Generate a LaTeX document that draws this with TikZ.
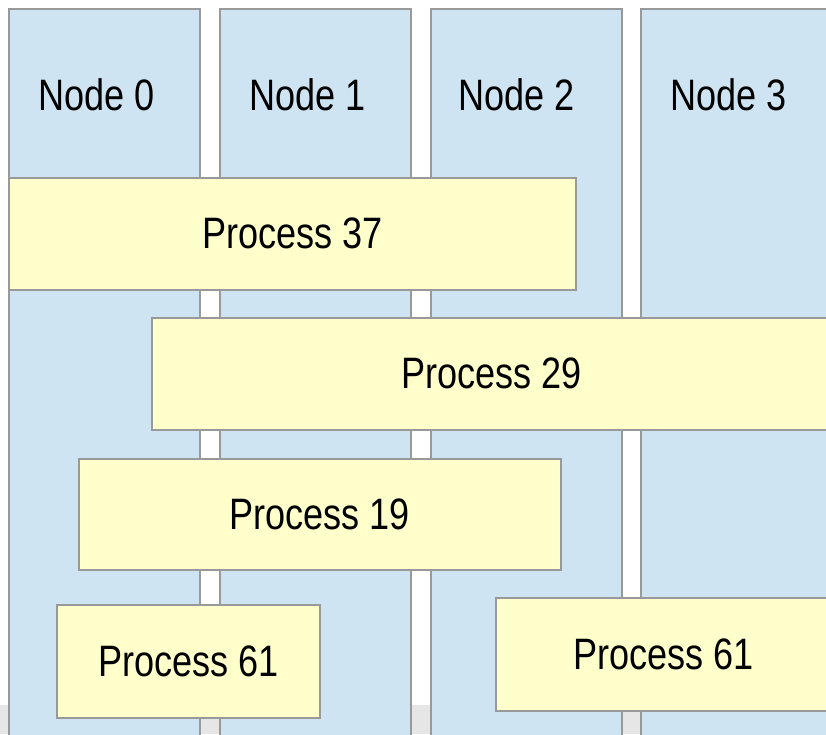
\documentclass[tikz,border=0pt]{standalone}
\usepackage{fontspec}
\setmainfont[FakeStretch=0.82]{Liberation Sans}
\usetikzlibrary{positioning}
\definecolor{nodeblue}{HTML}{CFE4F2}
\definecolor{procyellow}{HTML}{FFFFCC}
\definecolor{edgegray}{HTML}{999999}
\definecolor{bandgray}{HTML}{E6E6E6}
\tikzset{
  column/.style={draw=edgegray, line width=1.5pt, fill=nodeblue, anchor=north west,
    inner sep=0pt, minimum width=191pt, minimum height=760pt},
  collabel/.style={anchor=base west, inner sep=0pt, font=\fontsize{44}{52}\selectfont},
  process/.style={draw=edgegray, line width=1.5pt, fill=procyellow, anchor=north west,
    inner sep=0pt, minimum height=112pt, font=\fontsize{44}{52}\selectfont},
}
\begin{document}
\begin{tikzpicture}[x=1pt, y=-1pt]
  \useasboundingbox (0,0) rectangle (826,734);
  \clip (0,0) rectangle (826,734);
  \fill[white] (0,0) rectangle (826,734);
  \fill[bandgray] (0,705) rectangle (826,734);
  % the four nodes
  \node[column] (n0) at (8,8) {};
  \node[column] (n1) at (219,8) {};
  \node[column] (n2) at (430,8) {};
  \node[column, minimum width=220pt] (n3) at (640,8) {};
  \node[collabel] (l0) at ([xshift=30pt, yshift=-102pt]n0.north west) {Node 0};
  \node[collabel] (l1) at ([xshift=30pt, yshift=-102pt]n1.north west) {Node 1};
  \node[collabel] (l2) at ([xshift=28pt, yshift=-102pt]n2.north west) {Node 2};
  \node[collabel] (l3) at ([xshift=30pt, yshift=-102pt]n3.north west) {Node 3};
  % processes spread over the nodes
  \node[process, minimum width=567pt] (p37) at (8,177) {Process 37};
  \node[process, minimum width=680pt] (p29) at (151,317) {Process 29};
  \node[process, minimum width=482pt, minimum height=111pt] (p19) at (78,458) {Process 19};
  \node[process, minimum width=263pt, minimum height=113pt] (p61a) at (56,604) {Process 61};
  \node[process, minimum width=336pt, minimum height=113pt] (p61b) at (495,597) {Process 61};
\end{tikzpicture}
\end{document}
